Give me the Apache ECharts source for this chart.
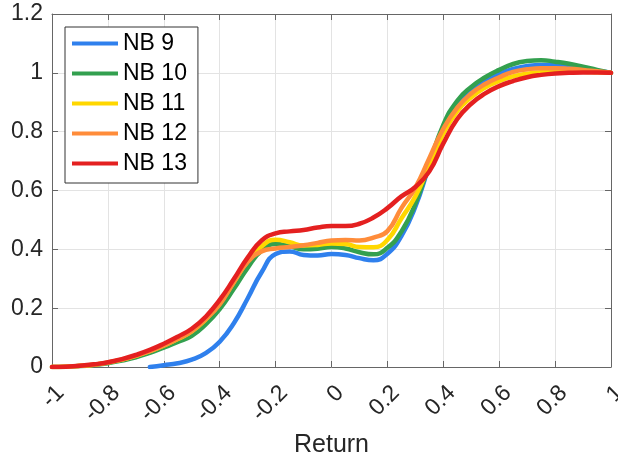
<!DOCTYPE html>
<html>
<head>
<meta charset="utf-8">
<script src="https://cdn.jsdelivr.net/npm/echarts@6/dist/echarts.min.js"></script>
<style>
  html, body { margin: 0; padding: 0; background: #fff; }
  #chart { width: 618px; height: 457px; }
</style>
</head>
<body>
<div id="chart"></div>
<script>
const xs = [-1,-0.95,-0.9,-0.85,-0.8,-0.75,-0.7,-0.65,-0.6,-0.55,-0.5,-0.45,-0.4,-0.35,-0.3,-0.25,-0.2,-0.15,-0.1,-0.05,0,0.05,0.1,0.15,0.2,0.25,0.3,0.35,0.4,0.45,0.5,0.55,0.6,0.65,0.7,0.75,0.8,0.85,0.9,0.95,1];

const nb9  = [null,null,null,null,null,null,null,0,0.006,0.013,0.025,0.047,0.086,0.148,0.233,0.322,0.384,0.393,0.381,0.379,0.384,0.381,0.37,0.363,0.385,0.445,0.545,0.685,0.815,0.893,0.94,0.972,0.996,1.013,1.023,1.027,1.025,1.02,1.014,1.007,1.0];
const nb10 = [0,0.001,0.003,0.007,0.013,0.022,0.033,0.048,0.066,0.085,0.106,0.145,0.197,0.265,0.337,0.396,0.418,0.411,0.4,0.402,0.408,0.403,0.39,0.383,0.405,0.46,0.555,0.69,0.823,0.905,0.952,0.985,1.01,1.03,1.04,1.043,1.038,1.031,1.021,1.01,1.0];
const nb11 = [0,0.001,0.004,0.008,0.015,0.025,0.038,0.054,0.073,0.095,0.121,0.162,0.216,0.288,0.36,0.41,0.433,0.424,0.413,0.415,0.42,0.418,0.408,0.407,0.432,0.505,0.58,0.685,0.793,0.87,0.917,0.95,0.972,0.988,0.997,1.002,1.004,1.005,1.004,1.002,1.0];
const nb12 = [0,0.001,0.004,0.008,0.015,0.025,0.038,0.054,0.073,0.096,0.122,0.163,0.213,0.287,0.357,0.393,0.403,0.408,0.414,0.422,0.43,0.432,0.43,0.44,0.462,0.54,0.61,0.71,0.81,0.882,0.93,0.962,0.985,1.003,1.012,1.016,1.016,1.014,1.01,1.005,1.0];
const nb13 = [0,0.001,0.004,0.009,0.016,0.027,0.041,0.058,0.079,0.103,0.13,0.171,0.228,0.298,0.372,0.43,0.454,0.461,0.466,0.474,0.479,0.479,0.487,0.508,0.54,0.58,0.612,0.665,0.76,0.843,0.895,0.93,0.955,0.972,0.985,0.993,0.998,1.0,1.001,1.001,1.0];

const seriesNames = ['NB 9','NB 10','NB 11','NB 12','NB 13'];
const seriesValues = [nb9, nb10, nb11, nb12, nb13];
const colors = ['#2F80ED','#33A04F','#FFD700','#FF8C3A','#E42020'];

const FONT = 'Liberation Sans, Arial, Helvetica, sans-serif';
const AXIS_COLOR = '#666666';
const TEXT_COLOR = '#262626';
const GRID_COLOR = '#e3e3e3';

function pairs(vals) {
  return xs.map((x, i) => [x, vals[i]]);
}

const chart = echarts.init(document.getElementById('chart'), null, { renderer: 'canvas' });

const baseAxisLine = { show: true, onZero: false, lineStyle: { color: AXIS_COLOR, width: 1 } };
const baseTick = { show: true, inside: true, length: 6, lineStyle: { color: AXIS_COLOR } };

chart.setOption({
  animation: false,
  backgroundColor: '#ffffff',
  textStyle: { fontFamily: FONT },
  color: colors,
  grid: { left: 52, right: 7, top: 14, bottom: 90, containLabel: false, outerBoundsMode: 'none' },
  legend: {
    orient: 'vertical',
    left: 65,
    top: 27,
    icon: 'rect',
    itemWidth: 46,
    itemHeight: 4,
    itemGap: 7,
    padding: [5, 11, 8, 7],
    borderColor: '#333333',
    borderWidth: 1,
    backgroundColor: '#ffffff',
    textStyle: { fontSize: 23, color: '#000000', fontFamily: FONT },
    data: seriesNames
  },
  xAxis: [
    {
      type: 'value', min: -1, max: 1, interval: 0.2, position: 'bottom',
      axisLine: baseAxisLine, axisTick: baseTick,
      splitLine: { show: true, lineStyle: { color: GRID_COLOR, width: 1 } },
      axisLabel: {
        show: true, rotate: 45, fontSize: 23, color: TEXT_COLOR, fontFamily: FONT,
        margin: 14, align: 'right', verticalAlign: 'top', lineHeight: 24,
        showMinLabel: true, showMaxLabel: true
      },
      name: 'Return', nameLocation: 'middle', nameGap: 61,
      nameTextStyle: { fontSize: 25, color: TEXT_COLOR, fontFamily: FONT }
    },
    {
      type: 'value', min: -1, max: 1, interval: 0.2, position: 'top',
      axisLine: baseAxisLine, axisTick: baseTick,
      splitLine: { show: false }, axisLabel: { show: false }
    }
  ],
  yAxis: [
    {
      type: 'value', min: 0, max: 1.2, interval: 0.2, position: 'left',
      axisLine: baseAxisLine, axisTick: baseTick,
      splitLine: { show: true, lineStyle: { color: GRID_COLOR, width: 1 } },
      axisLabel: {
        show: true, fontSize: 23, color: TEXT_COLOR, fontFamily: FONT, margin: 9,
        showMinLabel: true, showMaxLabel: true
      }
    },
    {
      type: 'value', min: 0, max: 1.2, interval: 0.2, position: 'right',
      axisLine: baseAxisLine, axisTick: baseTick,
      splitLine: { show: false }, axisLabel: { show: false }
    }
  ],
  series: seriesNames.map((name, i) => ({
    name: name,
    type: 'line',
    xAxisIndex: 0,
    yAxisIndex: 0,
    data: pairs(seriesValues[i]),
    smooth: 0.5,
    showSymbol: false,
    symbol: 'none',
    connectNulls: false,
    lineStyle: { width: 4.5, color: colors[i], cap: 'round', join: 'round' },
    itemStyle: { color: colors[i] },
    z: 2 + i
  }))
});
</script>
</body>
</html>
